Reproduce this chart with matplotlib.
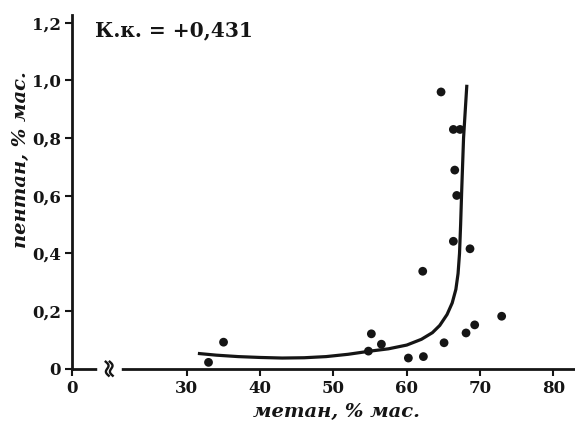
import numpy as np
import matplotlib
matplotlib.use("Agg")
import matplotlib.pyplot as plt
from matplotlib.ticker import FixedLocator, FixedFormatter

# Measured samples: methane vs pentane content, % by mass
methane = [32.95, 35.0, 54.77, 55.17, 56.54, 60.22, 62.27, 62.18, 64.68, 65.09,
           66.36, 67.27, 66.55, 66.82, 66.36, 68.63, 68.09, 69.27, 72.95]
pentane = [0.022, 0.092, 0.061, 0.121, 0.085, 0.037, 0.042, 0.338, 0.960, 0.090,
           0.830, 0.830, 0.689, 0.601, 0.442, 0.416, 0.124, 0.152, 0.182]

# Trend curve nodes
trend_x = [31.5, 34.0, 37.0, 40.0, 43.0, 46.0, 49.0, 52.0, 55.0, 57.5, 60.0,
           62.0, 63.5, 64.5, 65.5, 66.2, 66.7, 67.0, 67.2, 67.35, 67.5, 67.75, 68.2]
trend_y = [0.053, 0.047, 0.042, 0.039, 0.037, 0.038, 0.042, 0.050, 0.061, 0.069,
           0.082, 0.102, 0.125, 0.150, 0.188, 0.228, 0.275, 0.330, 0.400, 0.500,
           0.620, 0.800, 0.985]

corr_label = "К.к. = +0,431"
x_label = "метан, % мас."
y_label = "пентан, % мас."

x_ticks = [30, 40, 50, 60, 70, 80]
y_ticks = [0, 0.2, 0.4, 0.6, 0.8, 1.0, 1.2]
y_tick_labels = ["0", "0,2", "0,4", "0,6", "0,8", "1,0", "1,2"]

# broken x axis: the origin is drawn just left of the break
ZERO_POS = 14.36
BREAK_LO, BREAK_HI = 18.1, 20.7

ink = "#151515"
plt.rcParams["font.family"] = ["DejaVu Serif"]

fig = plt.figure(figsize=(5.75, 4.26), dpi=100)
ax = fig.add_axes([0.1257, 0.1345, 0.998 - 0.1257, 0.9648 - 0.1345])

ax.plot(trend_x, trend_y, color=ink, lw=2.3, solid_capstyle="butt",
        solid_joinstyle="round", zorder=3)
ax.scatter(methane, pentane, s=40, color=ink, edgecolors="none", zorder=4)

ax.set_xlim(ZERO_POS, 82.8)
ax.set_ylim(0, 1.227)

for s in ("top", "right"):
    ax.spines[s].set_visible(False)
for s in ("left", "bottom"):
    ax.spines[s].set_linewidth(2.0)
    ax.spines[s].set_color(ink)

ax.xaxis.set_major_locator(FixedLocator([ZERO_POS] + x_ticks))
ax.xaxis.set_major_formatter(FixedFormatter(["0"] + [str(v) for v in x_ticks]))
ax.yaxis.set_major_locator(FixedLocator(y_ticks))
ax.yaxis.set_major_formatter(FixedFormatter(y_tick_labels))
ax.tick_params(direction="out", length=5, width=1.5, color=ink,
               labelsize=12, labelcolor=ink, pad=3)
for lab in ax.get_xticklabels() + ax.get_yticklabels():
    lab.set_fontweight("bold")

# axis break: gap in the bottom spine with a double wavy mark
ax.plot([BREAK_LO, BREAK_HI], [0, 0], color="white", lw=4, clip_on=False,
        zorder=5, transform=ax.get_xaxis_transform())
mid = (BREAK_LO + BREAK_HI) / 2
t = np.linspace(-1, 1, 50)
px_x = 1.0 / 7.333  # data units per pixel along x
px_y = 1.0 / 353.7  # axes fraction per pixel along y
for off in (-2.0, 2.0):
    xs = mid + (off + 2.0 * np.sin(np.pi * t) - 1.5 * t) * px_x
    ys = (7.0 * t) * px_y
    ax.plot(xs, ys, color=ink, lw=1.7, clip_on=False, zorder=6,
            transform=ax.get_xaxis_transform())

ax.text(0.045, 0.985, corr_label, transform=ax.transAxes, fontsize=14.5,
        fontweight="bold", color=ink, va="top", ha="left")

fig.text(336.7 / 575, 1 - 412 / 426, x_label, fontsize=14, fontweight="bold",
         style="italic", color=ink, ha="center", va="center")
fig.text(21 / 575, 1 - 160 / 426, y_label, fontsize=14, fontweight="bold",
         style="italic", color=ink, ha="center", va="center", rotation=90)

fig.savefig("out.png", dpi=100)
